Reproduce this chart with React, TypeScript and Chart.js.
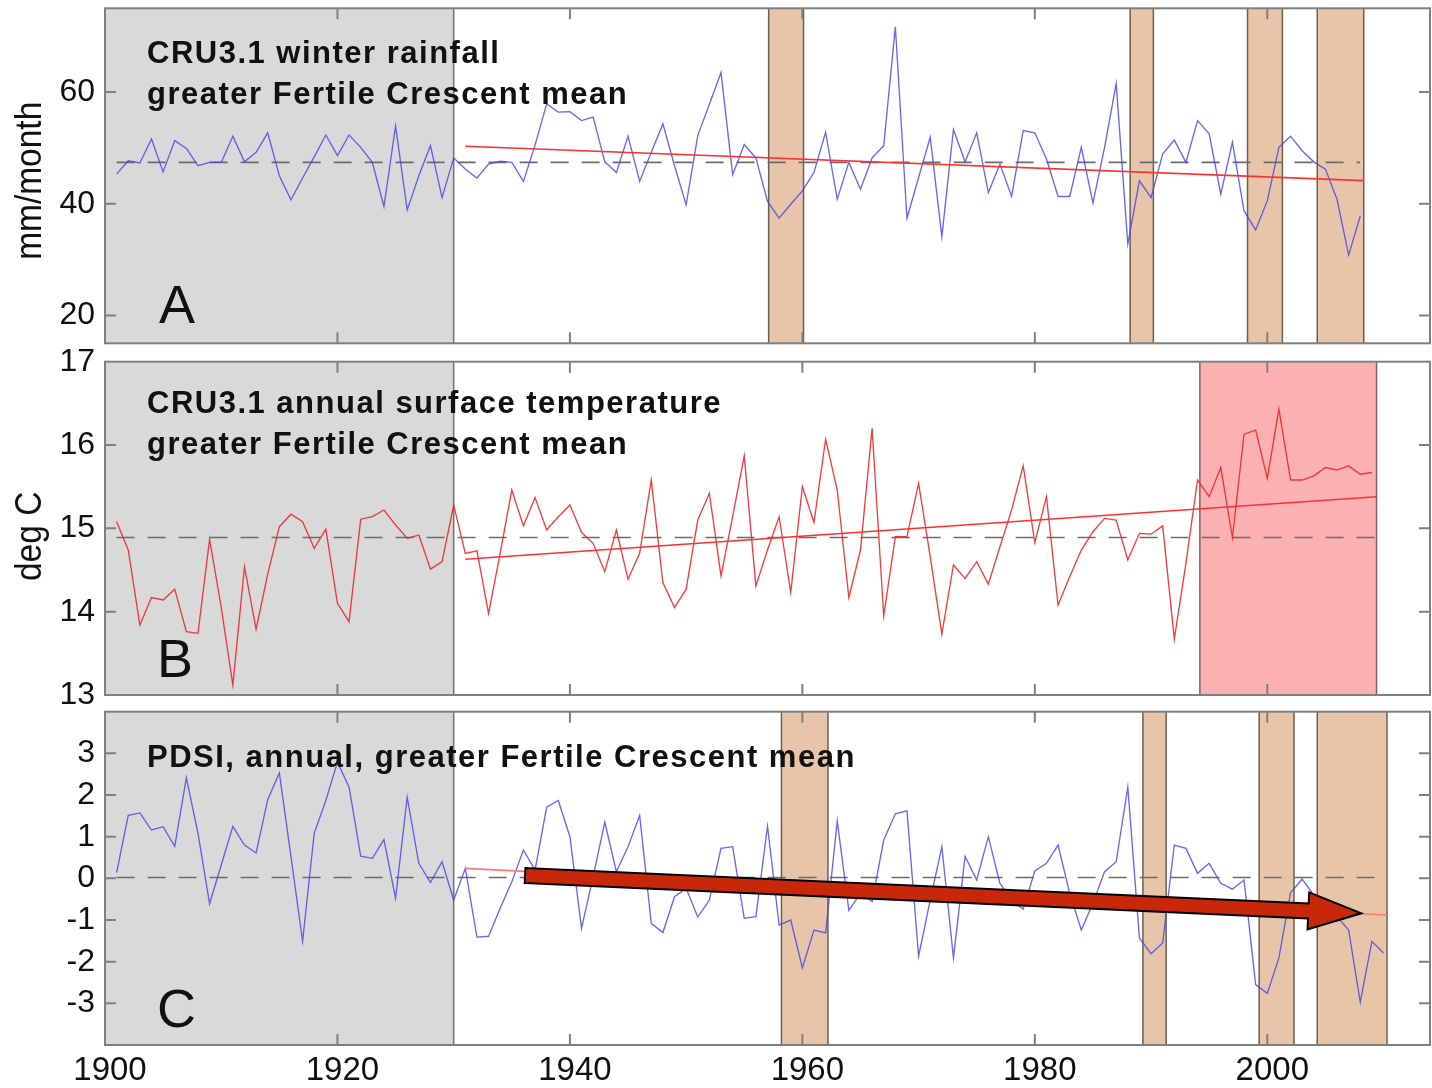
import React, { useEffect, useRef } from "react";
import { Chart, registerables } from "chart.js";

Chart.register(...registerables);

// ---------------- DATA ----------------
const FIRST_YEAR = 1901;
const X_MIN = 1900;
const X_MAX = 2014;
const xTickYears = [1900, 1920, 1940, 1960, 1980, 2000];

// CRU3.1 winter rainfall (mm/month), 1901-2008
const rainfallValues = [
  45.3, 47.7, 47.3, 51.6, 45.7, 51.3, 49.9, 46.8, 47.4, 47.4,
  52.1, 47.5, 49.2, 52.7, 45.0, 40.7, 44.6, 48.4, 52.3, 48.6,
  52.3, 50.1, 47.4, 39.5, 53.9, 38.9, 45.0, 50.4, 41.1, 48.2,
  46.2, 44.6, 47.1, 47.6, 47.4, 44.0, 50.5, 57.9, 56.4, 56.5,
  54.9, 55.5, 47.5, 45.6, 52.1, 44.0, 49.2, 54.3, 46.8, 39.8,
  52.2, 57.8, 63.5, 45.2, 50.6, 48.2, 40.4, 37.4, 39.9, 42.3,
  45.6, 52.8, 40.8, 47.4, 42.6, 48.2, 50.4, 71.7, 37.4, 44.7,
  51.9, 34.1, 53.3, 47.5, 52.7, 42.0, 47.1, 41.3, 53.1, 52.7,
  48.0, 41.3, 41.3, 50.1, 40.1, 50.1, 61.5, 32.8, 44.1, 41.1,
  48.9, 51.4, 47.4, 54.9, 52.5, 41.7, 51.0, 38.7, 35.3, 40.5,
  50.1, 52.1, 49.5, 47.5, 46.2, 40.8, 30.8, 37.8,
];

// CRU3.1 annual surface temperature (deg C), 1901-2009
const temperatureValues = [
  15.08, 14.74, 13.84, 14.17, 14.14, 14.27, 13.76, 13.74, 14.87, 14.05,
  13.12, 14.54, 13.79, 14.45, 15.02, 15.17, 15.08, 14.76, 14.99, 14.10,
  13.88, 15.11, 15.14, 15.22, 15.04, 14.88, 14.92, 14.51, 14.60, 15.28,
  14.70, 14.73, 13.98, 14.70, 15.46, 15.03, 15.37, 14.98, 15.14, 15.28,
  14.95, 14.82, 14.48, 14.98, 14.39, 14.70, 15.58, 14.35, 14.05, 14.27,
  15.10, 15.42, 14.43, 15.14, 15.87, 14.31, 14.74, 15.14, 14.23, 15.50,
  15.07, 16.07, 15.46, 14.17, 14.74, 16.20, 13.95, 14.90, 14.90, 15.54,
  14.66, 13.73, 14.56, 14.40, 14.60, 14.33, 14.78, 15.22, 15.75, 14.83,
  15.38, 14.08, 14.42, 14.74, 14.96, 15.12, 15.10, 14.62, 14.94, 14.93,
  15.03, 13.67, 14.58, 15.58, 15.38, 15.73, 14.89, 16.13, 16.18, 15.60,
  16.43, 15.58, 15.58, 15.63, 15.73, 15.70, 15.75, 15.65, 15.67,
];

// PDSI annual, 1901-2010
const pdsiValues = [
  0.14, 1.51, 1.57, 1.16, 1.24, 0.77, 2.41, 1.08, -0.61, 0.32,
  1.25, 0.80, 0.61, 1.89, 2.53, 0.52, -1.51, 1.08, 1.87, 2.79,
  2.19, 0.53, 0.48, 0.93, -0.48, 1.95, 0.36, -0.10, 0.40, -0.52,
  0.24, -1.41, -1.39, -0.72, -0.08, 0.68, 0.20, 1.71, 1.87, 1.00,
  -1.20, 0.04, 1.35, 0.16, 0.76, 1.51, -1.08, -1.30, -0.44, -0.24,
  -0.93, -0.52, 0.72, 0.76, -0.96, -0.92, 1.25, -1.12, -1.00, -2.15,
  -1.24, -1.31, 1.38, -0.77, -0.36, -0.56, 0.92, 1.55, 1.62, -1.87,
  -0.52, 0.76, -1.91, 0.53, -0.04, 1.00, -0.12, -0.52, -0.74, 0.18,
  0.36, 0.80, -0.36, -1.24, -0.60, 0.16, 0.40, 2.19, -1.43, -1.81,
  -1.55, 0.80, 0.72, 0.12, 0.36, -0.12, -0.26, -0.04, -2.55, -2.76,
  -1.91, -0.34, -0.02, -0.40, -0.70, -0.92, -1.24, -2.97, -1.51, -1.79,
];

// long-term means (dashed lines): [value, first year, last year]
const rainfallMean = [47.4, 1901, 2008];
const temperatureMean = [14.89, 1901, 2009.3];
const pdsiMean = [0.02, 1901, 2009.4];

// linear trends since 1931: [[year, value], [year, value]]
const rainfallTrend = [[1931, 50.3], [2008.3, 44.13]];
const temperatureTrend = [[1931, 14.63], [2009.4, 15.38]];
const pdsiTrend = [[1931, 0.24], [2010.3, -0.88]];

// shaded periods [start, end]
const baselinePeriod = [1900, 1930];
const rainfallDroughts = [[1957.1, 1960.1], [1988.2, 1990.2], [1998.3, 2001.3], [2004.3, 2008.3]];
const warmPeriods = [[1994.2, 2009.4]];
const pdsiDroughts = [[1958.2, 1962.2], [1989.3, 1991.3], [1999.3, 2002.3], [2004.3, 2010.3]];

// y tick values
const rainfallTicks = [20, 40, 60];
const temperatureTicks = [13, 14, 15, 16, 17];
const pdsiTicks = [-3, -2, -1, 0, 1, 2, 3];

// annotation arrow in panel C: [year, value]
const arrowTail = [1936.14, 0.068];
const arrowTip = [2008.09, -0.839];

// ---------------- STYLE / LAYOUT ----------------
const W = 1432;
const H = 1088;
const FONT = '"Liberation Sans", Arial, Helvetica, sans-serif';

const panels = [
  {
    id: "A",
    values: rainfallValues,
    mean: rainfallMean,
    trend: rainfallTrend,
    bands: rainfallDroughts,
    bandFill: "#e8c5a8",
    bandEdge: "#6e5e50",
    lineColor: "rgba(70,70,240,0.82)",
    trendColor: "#ff3232",
    yMin: 15,
    yMax: 75,
    yTicks: rainfallTicks,
    yTitle: "mm/month",
    yTitleShift: 5,
    titleLines: ["CRU3.1 winter rainfall", "greater Fertile Crescent mean"],
    titleBaselines: [55, 95.7],
    letter: "A",
    letterPos: [54, 314.5],
    top: 8.3,
    bottom: 343.3,
    showX: false,
    arrow: false,
  },
  {
    id: "B",
    values: temperatureValues,
    mean: temperatureMean,
    trend: temperatureTrend,
    bands: warmPeriods,
    bandFill: "#fbb1b1",
    bandEdge: "#7a6464",
    lineColor: "rgba(240,40,40,0.9)",
    trendColor: "#ff3030",
    yMin: 13,
    yMax: 17,
    yTicks: temperatureTicks,
    yTitle: "deg C",
    yTitleShift: 8,
    titleLines: ["CRU3.1 annual surface temperature", "greater Fertile Crescent mean"],
    titleBaselines: [51.6, 92.3],
    letter: "B",
    letterPos: [52, 315.3],
    top: 361.7,
    bottom: 695,
    showX: false,
    arrow: false,
  },
  {
    id: "C",
    values: pdsiValues,
    mean: pdsiMean,
    trend: pdsiTrend,
    bands: pdsiDroughts,
    bandFill: "#e8c5a8",
    bandEdge: "#6e5e50",
    lineColor: "rgba(70,70,240,0.82)",
    trendColor: "#ff7a7a",
    yMin: -4,
    yMax: 4,
    yTicks: pdsiTicks,
    yTitle: "",
    yTitleShift: 0,
    titleLines: ["PDSI, annual, greater Fertile Crescent mean"],
    titleBaselines: [55],
    letter: "C",
    letterPos: [52, 315.3],
    top: 711.7,
    bottom: 1045,
    showX: true,
    arrow: true,
  },
];

function makeDecor(spec: any) {
  return {
    id: "decor" + spec.id,
    beforeDatasetsDraw(chart: any) {
      const { ctx, chartArea: a, scales } = chart;
      const x = scales.x;
      ctx.save();
      // baseline grey period
      const g0 = x.getPixelForValue(baselinePeriod[0]);
      const g1 = x.getPixelForValue(baselinePeriod[1]);
      ctx.fillStyle = "#d9d9d9";
      ctx.fillRect(g0, a.top, g1 - g0, a.bottom - a.top);
      ctx.strokeStyle = "#777777";
      ctx.lineWidth = 1.6;
      ctx.beginPath();
      ctx.moveTo(g1, a.top);
      ctx.lineTo(g1, a.bottom);
      ctx.stroke();
      // bands
      for (const b of spec.bands) {
        const b0 = x.getPixelForValue(b[0]);
        const b1 = x.getPixelForValue(b[1]);
        ctx.fillStyle = spec.bandFill;
        ctx.fillRect(b0, a.top, b1 - b0, a.bottom - a.top);
        ctx.strokeStyle = spec.bandEdge;
        ctx.lineWidth = 1.5;
        ctx.beginPath();
        ctx.moveTo(b0, a.top);
        ctx.lineTo(b0, a.bottom);
        ctx.moveTo(b1, a.top);
        ctx.lineTo(b1, a.bottom);
        ctx.stroke();
      }
      ctx.restore();
    },
    afterDatasetsDraw(chart: any) {
      const { ctx, chartArea: a, scales } = chart;
      const x = scales.x;
      const y = scales.y;
      ctx.save();

      // arrow
      if (spec.arrow) {
        const p0x = x.getPixelForValue(arrowTail[0]);
        const p0y = y.getPixelForValue(arrowTail[1]);
        const p1x = x.getPixelForValue(arrowTip[0]);
        const p1y = y.getPixelForValue(arrowTip[1]);
        const dx = p1x - p0x;
        const dy = p1y - p0y;
        const len = Math.hypot(dx, dy);
        const ux = dx / len;
        const uy = dy / len;
        const nx = -uy;
        const ny = ux;
        const headLen = 53;
        const headHalf = 18.5;
        const bodyHalf = 7.5;
        const bx = p1x - ux * headLen;
        const by = p1y - uy * headLen;
        ctx.beginPath();
        ctx.moveTo(p0x + nx * bodyHalf, p0y + ny * bodyHalf);
        ctx.lineTo(bx + nx * bodyHalf, by + ny * bodyHalf);
        ctx.lineTo(bx + nx * headHalf, by + ny * headHalf);
        ctx.lineTo(p1x, p1y);
        ctx.lineTo(bx - nx * headHalf, by - ny * headHalf);
        ctx.lineTo(bx - nx * bodyHalf, by - ny * bodyHalf);
        ctx.lineTo(p0x - nx * bodyHalf, p0y - ny * bodyHalf);
        ctx.closePath();
        ctx.fillStyle = "#c8280a";
        ctx.fill();
        ctx.strokeStyle = "#000000";
        ctx.lineWidth = 2;
        ctx.lineJoin = "miter";
        ctx.stroke();
      }

      // title text
      ctx.fillStyle = "#111111";
      ctx.textAlign = "left";
      ctx.textBaseline = "alphabetic";
      ctx.font = "bold 31px " + FONT;
      (ctx as any).letterSpacing = "1.5px";
      spec.titleLines.forEach((t: string, i: number) => {
        ctx.fillText(t, a.left + 42, a.top + spec.titleBaselines[i]);
      });
      (ctx as any).letterSpacing = "0px";

      // panel letter
      ctx.font = "54px " + FONT;
      ctx.fillText(spec.letter, a.left + spec.letterPos[0], a.top + spec.letterPos[1]);

      // y title (rotated)
      if (spec.yTitle) {
        ctx.save();
        ctx.translate(41, (a.top + a.bottom) / 2 + spec.yTitleShift);
        ctx.rotate(-Math.PI / 2);
        ctx.scale(0.93, 1);
        ctx.font = "36px " + FONT;
        ctx.textAlign = "center";
        ctx.textBaseline = "alphabetic";
        ctx.fillStyle = "#111111";
        ctx.fillText(spec.yTitle, 0, 0);
        ctx.restore();
      }

      // frame
      ctx.strokeStyle = "#808080";
      ctx.lineWidth = 2;
      ctx.strokeRect(a.left, a.top, a.right - a.left, a.bottom - a.top);

      // inward ticks
      const tl = 11;
      ctx.beginPath();
      for (const v of xTickYears) {
        const px = x.getPixelForValue(v);
        if (px <= a.left + 1 || px >= a.right - 1) continue;
        ctx.moveTo(px, a.top);
        ctx.lineTo(px, a.top + tl);
        ctx.moveTo(px, a.bottom);
        ctx.lineTo(px, a.bottom - tl);
      }
      for (const v of spec.yTicks) {
        const py = y.getPixelForValue(v);
        if (py <= a.top + 1 || py >= a.bottom - 1) continue;
        ctx.moveTo(a.left, py);
        ctx.lineTo(a.left + tl, py);
        ctx.moveTo(a.right, py);
        ctx.lineTo(a.right - tl, py);
      }
      ctx.stroke();
      ctx.restore();
    },
  };
}

function Panel({ spec }: { spec: any }) {
  const ref = useRef<HTMLCanvasElement | null>(null);
  useEffect(() => {
    if (!ref.current) return;
    const series = spec.values.map((v: number, i: number) => ({ x: FIRST_YEAR + i, y: v }));
    const meanLine = [
      { x: spec.mean[1], y: spec.mean[0] },
      { x: spec.mean[2], y: spec.mean[0] },
    ];
    const trendLine = spec.trend.map((p: number[]) => ({ x: p[0], y: p[1] }));
    const chart = new Chart(ref.current, {
      type: "line",
      data: {
        datasets: [
          {
            label: "trend",
            data: trendLine,
            borderColor: spec.trendColor,
            borderWidth: 1.6,
            pointRadius: 0,
            order: 0,
          },
          {
            label: "series",
            data: series,
            borderColor: spec.lineColor,
            borderWidth: 1.35,
            pointRadius: 0,
            tension: 0,
            order: 1,
          },
          {
            label: "mean",
            data: meanLine,
            borderColor: "#6c6c6c",
            borderWidth: 1.6,
            borderDash: [18, 13],
            pointRadius: 0,
            order: 2,
          },
        ],
      },
      options: {
        responsive: false,
        animation: false,
        events: [],
        layout: {
          padding: {
            top: spec.top,
            bottom: spec.showX ? 0 : H - spec.bottom,
            left: 0,
            right: 2,
          },
        },
        plugins: {
          legend: { display: false },
          tooltip: { enabled: false },
          title: { display: false },
        },
        scales: {
          x: {
            type: "linear",
            min: X_MIN,
            max: X_MAX,
            display: spec.showX,
            grid: { display: false, drawTicks: false },
            border: { display: false },
            ticks: {
              color: "#111111",
              font: { family: FONT, size: 33 },
              padding: 6,
              labelOffset: 5,
              maxRotation: 0,
              autoSkip: false,
              callback: (v: any) => String(v),
            },
            afterBuildTicks: (s: any) => {
              s.ticks = xTickYears.map((v) => ({ value: v }));
            },
            afterFit: (s: any) => {
              s.height = spec.showX ? H - spec.bottom : 0;
              s.paddingLeft = 0;
              s.paddingRight = 0;
            },
          },
          y: {
            type: "linear",
            min: spec.yMin,
            max: spec.yMax,
            grid: { display: false, drawTicks: false },
            border: { display: false },
            ticks: {
              color: "#111111",
              font: { family: FONT, size: 32 },
              padding: 10,
              autoSkip: false,
              callback: (v: any) => String(v),
            },
            afterBuildTicks: (s: any) => {
              s.ticks = spec.yTicks.map((v: number) => ({ value: v }));
            },
            afterFit: (s: any) => {
              s.width = 105;
              s.paddingTop = 0;
              s.paddingBottom = 0;
            },
          },
        },
      } as any,
      plugins: [makeDecor(spec)],
    });
    return () => chart.destroy();
  }, [spec]);
  return (
    <canvas
      ref={ref}
      width={W}
      height={H}
      style={{ position: "absolute", left: 0, top: 0, width: W, height: H }}
    />
  );
}

export default function App() {
  return (
    <div
      style={{
        position: "absolute",
        left: 0,
        top: 0,
        width: W,
        height: H,
        background: "#ffffff",
        overflow: "hidden",
      }}
    >
      {panels.map((p) => (
        <Panel key={p.id} spec={p} />
      ))}
    </div>
  );
}
